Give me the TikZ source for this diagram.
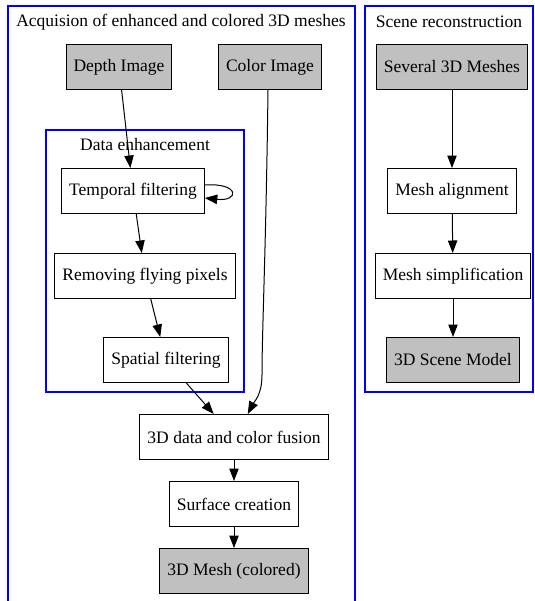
\documentclass[tikz,border=0pt]{standalone}
\usepackage{fontspec}
\setmainfont{Liberation Serif}
\usetikzlibrary{arrows.meta}
\definecolor{gvgray}{RGB}{192,192,192}

\begin{document}
\begin{tikzpicture}[x=0.8pt, y=-0.8pt, font=\fontsize{14}{16}\selectfont,
    every node/.style={inner sep=0pt},
    box/.style={draw, line width=0.8pt, minimum height=36pt, inner xsep=6pt, fill=white},
    input/.style={box, fill=gvgray},
    cluster/.style={draw=blue, line width=1.6pt},
    arr/.style={-{Triangle[length=10pt,width=7.5pt]}, line width=0.8pt},]
\path[use as bounding box, clip] (0,0) rectangle (535,601);

\draw[cluster] (8,6) rectangle (355,620);
\draw[cluster] (46,130) rectangle (244,392);
\draw[cluster] (365,6) rectangle (533,392);

\node (acq) at (181,22) {Acquision of enhanced and colored 3D meshes};
\node (den) at (145,145) {Data enhancement};
\node (scr) at (449,22) {Scene reconstruction};

\node[input] (di) at (119,67) {Depth Image};
\node[input] (ci) at (270,67) {Color Image};
\node[box] (tf) at (133,191) {Temporal filtering};
\node[box] (rf) at (145,276) {Removing flying pixels};
\node[box] (sf) at (166,360) {Spatial filtering};
\node[box] (fu) at (234,437) {3D data and color fusion};
\node[box] (sc) at (234,504) {Surface creation};
\node[input] (mc) at (234,571) {3D Mesh (colored)};

\node[input] (sm) at (452,67) {Several 3D Meshes};
\node[box] (ma) at (452,191) {Mesh alignment};
\node[box] (ms) at (453,276) {Mesh simplification};
\node[input] (sd) at (453,360) {3D Scene Model};

\draw[arr] (di) -- (tf);
\draw[arr] ([yshift=4.8pt]tf.east) .. controls +(28pt,2pt) and +(28pt,-3pt) .. ([yshift=-5.6pt]tf.east);
\draw[arr] (tf) -- (rf);
\draw[arr] (rf) -- (sf);
\draw[arr] (sf) -- (fu);
\draw[arr] ([xshift=-1.6pt]ci.south) .. controls (266,250) and (262,330) .. (262,375)
    .. controls (262,395) and (254,402) .. ([xshift=11pt]fu.north);
\draw[arr] (fu) -- (sc);
\draw[arr] (sc) -- (mc);

\draw[arr] (sm) -- (ma);
\draw[arr] (ma) -- (ms);
\draw[arr] (ms) -- (sd);

\end{tikzpicture}
\end{document}
